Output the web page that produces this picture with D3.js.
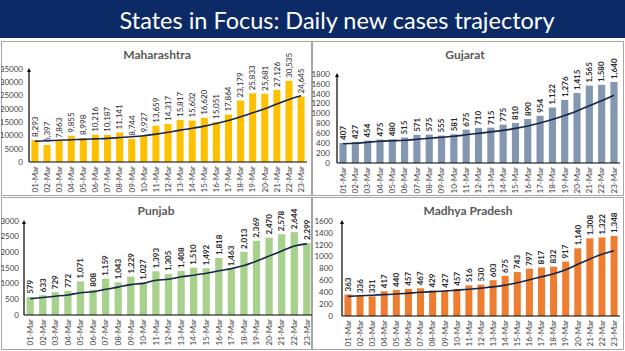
<!DOCTYPE html>
<html>
<head>
<meta charset="utf-8">
<script src="https://cdn.jsdelivr.net/npm/d3@7"></script>
<style>
  html, body { margin: 0; padding: 0; background: #fff; }
  svg { display: block; }
</style>
</head>
<body>
<div id="chart"></div>
<script>
// days shared by all four panels
const days = ["01-Mar", "02-Mar", "03-Mar", "04-Mar", "05-Mar", "06-Mar", "07-Mar", "08-Mar",
  "09-Mar", "10-Mar", "11-Mar", "12-Mar", "13-Mar", "14-Mar", "15-Mar", "16-Mar", "17-Mar",
  "18-Mar", "19-Mar", "20-Mar", "21-Mar", "22-Mar", "23-Mar"];

// daily new cases (bars)
const maharashtra = [8293, 6397, 7863, 9855, 8998, 10216, 10187, 11141, 8744, 9927, 13659, 14317,
  15817, 15602, 16620, 15051, 17864, 23179, 25833, 25681, 27126, 30535, 24645];
const gujarat = [407, 427, 454, 475, 480, 515, 571, 575, 555, 581, 675, 710, 715, 775, 810, 890,
  954, 1122, 1276, 1415, 1565, 1580, 1640];
const punjab = [579, 633, 729, 772, 1071, 808, 1159, 1043, 1229, 1027, 1393, 1305, 1408, 1510,
  1492, 1818, 1463, 2013, 2369, 2470, 2578, 2644, 2299];
const madhyaPradesh = [363, 336, 331, 417, 440, 457, 467, 429, 427, 457, 516, 530, 603, 675, 743,
  797, 817, 832, 917, 1140, 1308, 1322, 1348];

// trajectory lines
const maharashtraTrend = [7800, 8000, 8200, 8400, 8500, 8700, 8900, 9200, 9500, 9900, 10500, 11200,
  12000, 12700, 13500, 14500, 15600, 17000, 18500, 20000, 21800, 23500, 24900];
const gujaratTrend = [390, 400, 420, 440, 450, 460, 480, 500, 520, 540, 570, 600, 630, 660, 700,
  750, 810, 880, 960, 1050, 1160, 1260, 1370];
const punjabTrend = [520, 560, 600, 640, 710, 740, 820, 890, 970, 1010, 1110, 1140, 1220, 1270,
  1330, 1410, 1480, 1580, 1720, 1880, 2040, 2200, 2270];
const madhyaPradeshTrend = [330, 340, 350, 360, 370, 385, 400, 410, 420, 435, 450, 470, 490, 520,
  560, 610, 660, 710, 780, 870, 960, 1040, 1100];

// axis ticks
const maharashtraTicks = [0, 5000, 10000, 15000, 20000, 25000, 30000, 35000];
const gujaratTicks = [0, 200, 400, 600, 800, 1000, 1200, 1400, 1600, 1800];
const punjabTicks = [0, 500, 1000, 1500, 2000, 2500, 3000];
const madhyaPradeshTicks = [0, 200, 400, 600, 800, 1000, 1200, 1400, 1600];

const width = 625, height = 351;

const svg = d3.select("#chart").append("svg")
  .attr("width", width)
  .attr("height", height)
  .attr("font-family", "Lato, 'Liberation Sans', sans-serif");

// title bar
svg.append("rect").attr("x", 0).attr("y", 0).attr("width", width).attr("height", 38)
  .attr("fill", "#0c2a66");
svg.append("text")
  .attr("x", 337).attr("y", 29)
  .attr("text-anchor", "middle")
  .attr("fill", "#fff")
  .attr("font-size", 24)
  .attr("textLength", 435)
  .attr("lengthAdjust", "spacingAndGlyphs")
  .text("States in Focus: Daily new cases trajectory");

const fmt = d3.format(",");

function drawPanel({ name, values, trend, ticks, color, box, axisX, rangeEnd, y0, y1, titleX, titleY, labelX, bold }) {
  const clipId = "clip-" + name.replace(/\s/g, "");
  svg.append("clipPath").attr("id", clipId)
    .append("rect").attr("x", box[0]).attr("y", box[1]).attr("width", box[2]).attr("height", box[3]);

  const g = svg.append("g").attr("clip-path", `url(#${clipId})`);

  g.append("rect")
    .attr("x", box[0] + 0.5).attr("y", box[1] + 0.5)
    .attr("width", box[2] - 1).attr("height", box[3] - 1)
    .attr("fill", "#fff").attr("stroke", "#a6a6a6");

  const x = d3.scaleBand().domain(days).range([axisX, rangeEnd])
    .paddingInner(0.42).paddingOuter(0.2);
  const y = d3.scaleLinear().domain([0, ticks[ticks.length - 1]]).range([y0, y1]);

  g.append("text")
    .attr("x", titleX).attr("y", titleY)
    .attr("text-anchor", "middle")
    .attr("font-size", 12).attr("font-weight", "bold")
    .attr("fill", "#595959")
    .text(name);

  // y tick labels
  g.append("g").selectAll("text").data(ticks).join("text")
    .attr("x", labelX).attr("y", d => y(d))
    .attr("dy", "0.35em")
    .attr("text-anchor", "end")
    .attr("font-size", 8)
    .attr("fill", "#404040")
    .text(d => d);

  // bars
  g.append("g").selectAll("rect").data(values).join("rect")
    .attr("x", (d, i) => x(days[i]))
    .attr("y", d => y(d))
    .attr("width", x.bandwidth())
    .attr("height", d => y0 - y(d))
    .attr("fill", color);

  // value labels
  g.append("g").selectAll("text").data(values).join("text")
    .attr("transform", (d, i) => `translate(${x(days[i]) + x.bandwidth() / 2},${y(d) - 3}) rotate(-90)`)
    .attr("dy", "0.35em")
    .attr("font-size", 8)
    .attr("font-weight", bold ? "bold" : "normal")
    .attr("fill", "#262626")
    .text(d => fmt(d));

  // day labels
  g.append("g").selectAll("text").data(days).join("text")
    .attr("transform", d => `translate(${x(d) + x.bandwidth() / 2},${y0 + 4}) rotate(-90)`)
    .attr("dy", "0.35em")
    .attr("text-anchor", "end")
    .attr("font-size", 8)
    .attr("fill", "#404040")
    .text(d => d);

  // trend line
  const line = d3.line()
    .x((d, i) => x(days[i]) + x.bandwidth() / 2)
    .y(d => y(d))
    .curve(d3.curveCatmullRom);
  g.append("path").datum(trend)
    .attr("d", line)
    .attr("fill", "none")
    .attr("stroke", "#16264a")
    .attr("stroke-width", 1.6);

  // axes
  g.append("line")
    .attr("x1", axisX).attr("x2", rangeEnd)
    .attr("y1", y0).attr("y2", y0)
    .attr("stroke", "#000").attr("stroke-width", 1.2);
  g.append("line")
    .attr("x1", axisX).attr("x2", axisX)
    .attr("y1", y0).attr("y2", y1 + 2)
    .attr("stroke", "#000").attr("stroke-width", 1.2);
  g.append("path")
    .attr("d", `M${axisX - 2},${y1 + 3}L${axisX},${y1 - 1}L${axisX + 2},${y1 + 3}Z`)
    .attr("fill", "#000");
}

drawPanel({
  name: "Maharashtra", values: maharashtra, trend: maharashtraTrend, ticks: maharashtraTicks,
  color: "#ffc000", box: [1, 41, 311, 155], axisX: 29, rangeEnd: 307, y0: 162, y1: 69,
  titleX: 157, titleY: 59, labelX: 23, bold: false
});
drawPanel({
  name: "Gujarat", values: gujarat, trend: gujaratTrend, ticks: gujaratTicks,
  color: "#8497b0", box: [312, 41, 312, 155], axisX: 337, rangeEnd: 620, y0: 163, y1: 74,
  titleX: 465, titleY: 59, labelX: 330, bold: true
});
drawPanel({
  name: "Punjab", values: punjab, trend: punjabTrend, ticks: punjabTicks,
  color: "#a9d18e", box: [1, 197, 311, 153], axisX: 24, rangeEnd: 313, y0: 315, y1: 221,
  titleX: 156, titleY: 215, labelX: 19, bold: true
});
drawPanel({
  name: "Madhya Pradesh", values: madhyaPradesh, trend: madhyaPradeshTrend, ticks: madhyaPradeshTicks,
  color: "#ed7d31", box: [312, 197, 312, 153], axisX: 342, rangeEnd: 620, y0: 316, y1: 221,
  titleX: 468, titleY: 215, labelX: 333, bold: true
});
</script>
</body>
</html>
